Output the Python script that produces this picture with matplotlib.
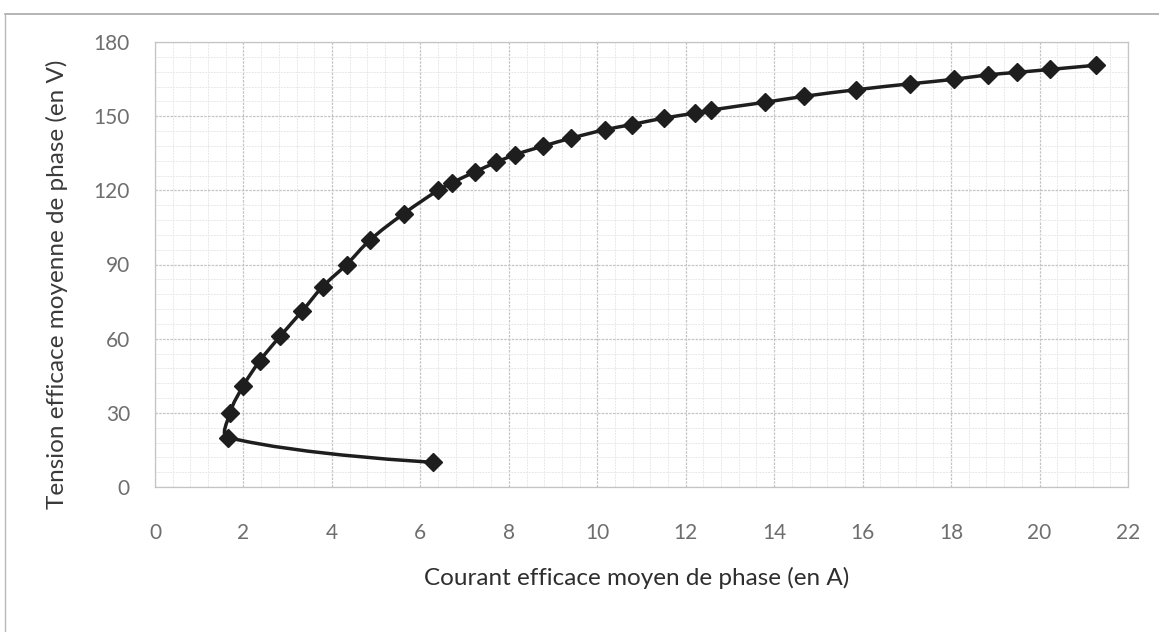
import numpy as np
import matplotlib
matplotlib.use("Agg")
import matplotlib.pyplot as plt
from matplotlib.path import Path
from matplotlib.patches import PathPatch
from matplotlib.lines import Line2D
from matplotlib.ticker import MultipleLocator

# courant efficace moyen (A) et tension efficace moyenne (V), par phase
courant = [6.28, 1.66, 1.70, 2.00, 2.37, 2.83, 3.32, 3.79, 4.33, 4.87, 5.62,
           6.40, 6.71, 7.24, 7.71, 8.14, 8.78, 9.41, 10.17, 10.78, 11.50,
           12.20, 12.58, 13.79, 14.67, 15.86, 17.08, 18.06, 18.83, 19.49,
           20.23, 21.28]
tension = [10, 20, 30, 41, 51, 61, 71, 81, 90, 100, 110.5,
           120, 123, 127.5, 131.3, 134.4, 137.9, 141.1, 144.5, 146.6, 149.2,
           151.2, 152.5, 155.6, 158.0, 160.7, 163.1, 164.9, 166.7, 167.7,
           168.9, 170.6]

xticks = np.arange(0, 23, 2)
yticks = np.arange(0, 181, 30)

plt.rcParams['font.family'] = ['Lato', 'DejaVu Sans']

fig = plt.figure(figsize=(11.59, 6.32), dpi=100)
W, H = 1159, 632
ax = fig.add_axes([155 / W, 1 - 487 / H, (1128 - 155) / W, (487 - 42) / H])
ax.set_xlim(0, 22)
ax.set_ylim(0, 180)

# grille principale + secondaire
ax.xaxis.set_major_locator(MultipleLocator(2))
ax.yaxis.set_major_locator(MultipleLocator(30))
ax.xaxis.set_minor_locator(MultipleLocator(0.4))
ax.yaxis.set_minor_locator(MultipleLocator(6))
ax.grid(True, which='minor', color='#e8e8e8', lw=0.7, ls=(0, (2, 1)))
ax.grid(True, which='major', color='#c4c4c4', lw=0.9, ls=(0, (2, 1)))
ax.set_axisbelow(True)
for s in ax.spines.values():
    s.set_color('#c4c4c4')
    s.set_linewidth(0.9)
    s.set_linestyle((0, (2, 1)))

ax.set_xticks(xticks)
ax.set_yticks(yticks)
ax.tick_params(which='both', length=0)
ax.tick_params(axis='x', pad=26, labelsize=15, labelcolor='#6e6e6e')
ax.tick_params(axis='y', pad=18, labelsize=15, labelcolor='#6e6e6e')

# courbe lissee (bezier) en coordonnees ecran pour le calcul des tangentes
bb = ax.get_window_extent()
sx = bb.width / 22
sy = bb.height / 180
P = np.column_stack([np.array(courant) * sx, np.array(tension) * sy])
n = len(P)
k = 0.4
verts = [P[0]]
codes = [Path.MOVETO]
for i in range(n - 1):
    p0 = P[i - 1] if i > 0 else P[i]
    p1 = P[i]
    p2 = P[i + 1]
    p3 = P[i + 2] if i + 2 < n else P[i + 1]
    d01 = np.hypot(*(p1 - p0))
    d12 = np.hypot(*(p2 - p1))
    d23 = np.hypot(*(p3 - p2))
    f1 = d12 / (d01 + d12) * k if d01 > 0 else 0
    f2 = d12 / (d12 + d23) * k if d23 > 0 else 0
    c1 = p1 + (p2 - p0) * f1
    c2 = p2 - (p3 - p1) * f2
    verts += [c1, c2, p2]
    codes += [Path.CURVE4] * 3
verts = np.array(verts) / [sx, sy]
ax.add_patch(PathPatch(Path(verts, codes), fc='none', ec='#1e1e1e', lw=2.5,
                       zorder=3))
ax.plot(courant, tension, ls='none', marker='D', ms=9, color='#1e1e1e',
        zorder=4)

ax.set_xlabel('Courant efficace moyen de phase (en A)', fontsize=17.5,
              color='#2e2e2e')
ax.xaxis.set_label_coords((637 - 155) / 973, (487 - 578) / 445)
ax.xaxis.label.set_va('center')
ax.set_ylabel('Tension efficace moyenne de phase (en V)', fontsize=17.5,
              color='#3a3a3a')
ax.yaxis.set_label_coords((57 - 155) / 973, (487 - 284) / 445)
ax.yaxis.label.set_va('center')

# bordure de la zone de graphique
fig.add_artist(Line2D([5 / W, 1], [1 - 14 / H, 1 - 14 / H], color='#a8a8a8',
                      lw=1.2, transform=fig.transFigure))
fig.add_artist(Line2D([5 / W, 5 / W], [1 - 14 / H, 0], color='#b8b8b8',
                      lw=1.0, transform=fig.transFigure))

fig.savefig('out.png', dpi=100)
